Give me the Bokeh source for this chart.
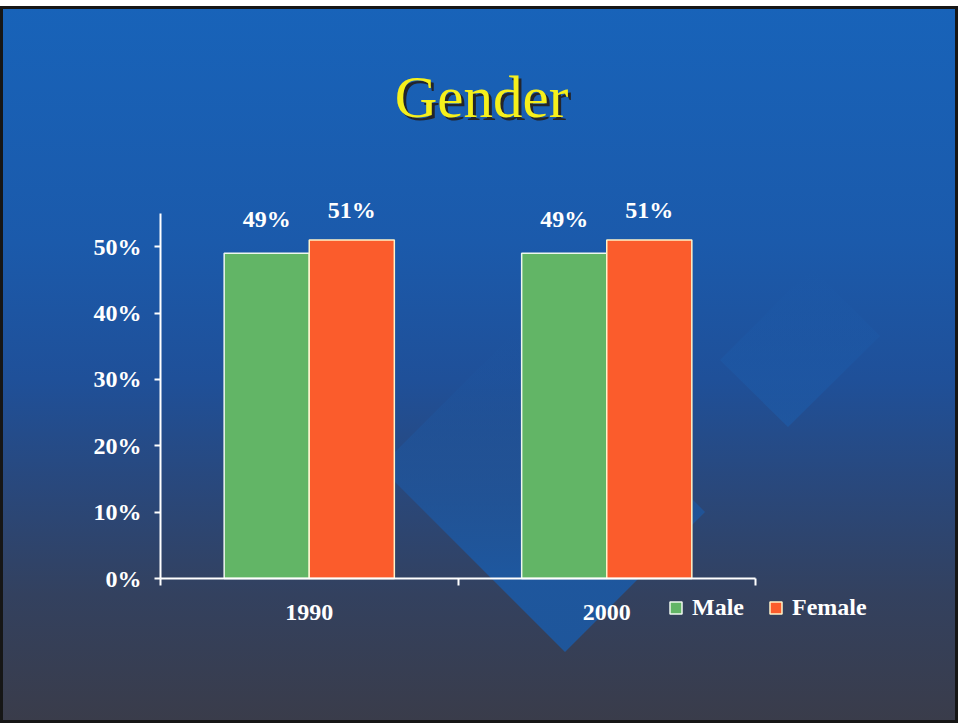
from urllib.parse import quote
from bokeh.plotting import figure
from bokeh.models import (Range1d, FixedTicker, Label, Legend, LegendItem,
                          ColumnDataSource, LinearAxis)
from bokeh.embed import file_html
from bokeh.resources import INLINE
from bokeh.core.properties import value

# ---- data ----
years = ["1990", "2000"]
male = [49, 49]
female = [51, 51]
series_names = ["Male", "Female"]
y_ticks = [0, 10, 20, 30, 40, 50]
y_tick_labels = ["0%", "10%", "20%", "30%", "40%", "50%"]
title_text = "Gender"

# ---- styling / layout ----
W, H = 958, 717
GREEN = "#62b566"
ORANGE = "#fb5c2c"
SERIF = "Liberation Serif"
FS = "24px"
BAR_W = 0.286
AX_TOP = 55            # top of the drawn value axis
PX_X = 297.5           # pixels per category
PX_Y = 365 / AX_TOP    # pixels per percent
X0, Y0 = 160, 572      # axis origin inside the canvas (px from left / top)

svg = (
    '<svg xmlns="http://www.w3.org/2000/svg" width="958" height="717">'
    '<defs>'
    '<linearGradient id="ga" gradientUnits="userSpaceOnUse" x1="0" y1="321" x2="0" y2="646">'
    '<stop offset="0" stop-color="#1d58a3" stop-opacity="0"/>'
    '<stop offset="0.45" stop-color="#1d58a3" stop-opacity="0.6"/>'
    '<stop offset="0.75" stop-color="#1d58a1" stop-opacity="0.95"/>'
    '<stop offset="1" stop-color="#1d579e" stop-opacity="0.95"/>'
    '</linearGradient>'
    '<linearGradient id="gb" gradientUnits="userSpaceOnUse" x1="0" y1="262" x2="0" y2="421">'
    '<stop offset="0" stop-color="#1c5eae" stop-opacity="0"/>'
    '<stop offset="0.5" stop-color="#1c5eae" stop-opacity="0.3"/>'
    '<stop offset="1" stop-color="#1c5eae" stop-opacity="0.55"/>'
    '</linearGradient>'
    '</defs>'
    '<polygon points="520,321 705,506 565,646 380,461" fill="url(#ga)"/>'
    '<polygon points="720,354 812,262 880,330 788,421" fill="url(#gb)"/>'
    '</svg>'
)
bg = (
    'url("data:image/svg+xml,' + quote(svg) + '") no-repeat, '
    'linear-gradient(to bottom, #1863b9 0%, #1b5aab 33%, #1f5099 52%, '
    '#29487c 67%, #33415f 82%, #3a3c4a 100%)'
)

p = figure(width=W, height=H, output_backend="svg", toolbar_location=None,
           x_axis_type=None, y_axis_type=None,
           x_range=Range1d(-X0 / PX_X, (W - X0) / PX_X),
           y_range=Range1d(-(H - Y0) / PX_Y, Y0 / PX_Y),
           min_border=0)
if p.title is not None:
    p.title.visible = False
p.styles = {"background": bg, "box-shadow": "inset 0 0 0 3px #161616",
            "margin-top": "6px"}
p.background_fill_alpha = 0
p.border_fill_alpha = 0
p.outline_line_color = None

xs = [i + 0.5 for i in range(len(years))]
x_male = [x - BAR_W / 2 for x in xs]
x_female = [x + BAR_W / 2 for x in xs]

src_m = ColumnDataSource(dict(x=x_male, top=male, lab=[f"{v}%" for v in male]))
src_f = ColumnDataSource(dict(x=x_female, top=female, lab=[f"{v}%" for v in female]))

r_m = p.vbar(x="x", top="top", bottom=0, width=BAR_W, source=src_m,
             fill_color=GREEN, line_color="#eef7ee", line_width=1.5)
r_f = p.vbar(x="x", top="top", bottom=0, width=BAR_W, source=src_f,
             fill_color=ORANGE, line_color="#fff2c8", line_width=1.5)

for src, off in ((src_m, -34), (src_f, -30)):
    p.text(x="x", y="top", text="lab", source=src, text_align="center",
           text_baseline="middle", y_offset=off,
           text_font=value(SERIF), text_font_style="bold",
           text_font_size=FS, text_color="white")

# y axis at x = 0
ya = LinearAxis(fixed_location=0, bounds=(0, AX_TOP),
                ticker=FixedTicker(ticks=y_ticks),
                major_label_overrides={t: l for t, l in zip(y_ticks, y_tick_labels)})
ya.axis_line_color = "white"
ya.axis_line_width = 2
ya.major_tick_line_color = "white"
ya.major_tick_line_width = 2
ya.major_tick_out = 6
ya.major_tick_in = 0
ya.minor_tick_line_color = None
ya.major_label_standoff = 13
ya.major_label_text_color = "white"
ya.major_label_text_font = SERIF
ya.major_label_text_font_style = "bold"
ya.major_label_text_font_size = FS
p.add_layout(ya, "left")

# x axis at y = 0: labels at category centres, ticks at category boundaries
xa = LinearAxis(fixed_location=0, bounds=(0, len(years)),
                ticker=FixedTicker(ticks=xs, minor_ticks=list(range(len(years) + 1))),
                major_label_overrides={x: y for x, y in zip(xs, years)})
xa.axis_line_color = "white"
xa.axis_line_width = 2
xa.major_tick_line_color = None
xa.major_tick_out = 0
xa.major_tick_in = 0
xa.minor_tick_line_color = "white"
xa.minor_tick_line_width = 2
xa.minor_tick_out = 7
xa.minor_tick_in = 0
xa.major_label_standoff = 19
xa.major_label_text_color = "white"
xa.major_label_text_font = SERIF
xa.major_label_text_font_style = "bold"
xa.major_label_text_font_size = FS
p.add_layout(xa, "below")

# legend
legend = Legend(items=[LegendItem(label=series_names[0], renderers=[r_m]),
                       LegendItem(label=series_names[1], renderers=[r_f])],
                orientation="horizontal", location=(668, 102),
                background_fill_alpha=0, border_line_color=None,
                glyph_width=15, glyph_height=15, label_standoff=9,
                spacing=24, padding=0, margin=0,
                label_text_color="white", label_text_font=SERIF,
                label_text_font_style="bold", label_text_font_size=FS)
p.add_layout(legend)

# title with shadow
p.add_layout(Label(x=484, y=624, x_units="screen", y_units="screen", text=title_text,
                   text_align="center", text_baseline="alphabetic",
                   text_font=SERIF, text_font_size="59px", text_color="#23252c"))
p.add_layout(Label(x=481, y=627, x_units="screen", y_units="screen", text=title_text,
                   text_align="center", text_baseline="alphabetic",
                   text_font=SERIF, text_font_size="59px", text_color="#f6f01c"))

open("out.html", "w").write(file_html(p, INLINE))
